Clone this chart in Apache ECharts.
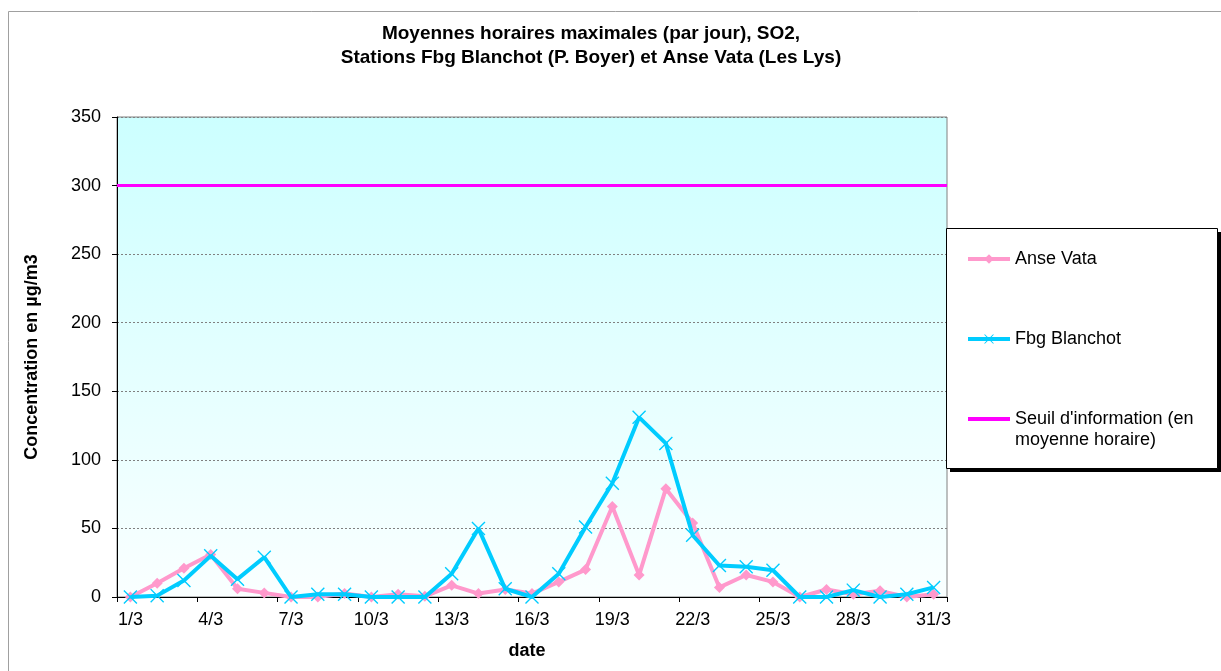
<!DOCTYPE html>
<html>
<head>
<meta charset="utf-8">
<script src="https://cdn.jsdelivr.net/npm/echarts@6/dist/echarts.min.js"></script>
<style>
html,body{margin:0;padding:0;background:#fff;}
#chart{width:1221px;height:671px;}
</style>
</head>
<body>
<div id="chart"></div>
<script>
const categories = ['1/3','2/3','3/3','4/3','5/3','6/3','7/3','8/3','9/3','10/3','11/3','12/3','13/3','14/3','15/3','16/3','17/3','18/3','19/3','20/3','21/3','22/3','23/3','24/3','25/3','26/3','27/3','28/3','29/3','30/3','31/3'];
const anseVata = [0,10,21,31,6,3,0,0,2.5,0,2,0.5,8.5,2.5,5.5,2.5,11,20,66,16,79,54,7,16,11,0,5.5,2,4.5,0,2];
const fbgBlanchot = [0,1,12,30,13,29,0,2,2,0,0,0,17,50,6,0,17,51,83,131,112,45,23,22,19.5,0,0,5,0,2,7];
const seuil = 300;
const yTicks = {min: 0, max: 350, interval: 50};

const FONT = '"Liberation Sans", Arial, sans-serif';
const xPath = 'path://M0,7 L7,0 L50,43 L93,0 L100,7 L57,50 L100,93 L93,100 L50,57 L7,100 L0,93 L43,50 Z';
const legendText = {fontFamily: FONT, fontSize: 18, color: '#000'};

const chart = echarts.init(document.getElementById('chart'), null, {renderer: 'canvas'});
chart.setOption({
  animation: false,
  backgroundColor: '#ffffff',
  title: {
    text: 'Moyennes horaires maximales (par jour), SO2,\nStations Fbg Blanchot (P. Boyer) et Anse Vata (Les Lys)',
    left: 586, top: 17, textAlign: 'center',
    textStyle: {fontFamily: FONT, fontSize: 19, fontWeight: 'bold', color: '#000', lineHeight: 24}
  },
  grid: {
    left: 117, top: 117, right: 274, bottom: 74,
    show: true, borderColor: '#808080', borderWidth: 1,
    backgroundColor: new echarts.graphic.LinearGradient(0, 0, 0, 1, [
      {offset: 0, color: '#CCFFFF'}, {offset: 1, color: '#FAFFFF'}
    ])
  },
  graphic: [
    {type: 'rect', left: 6, top: 9, shape: {width: 1300, height: 800}, style: {fill: 'none', stroke: '#A0A0A0', lineWidth: 1}, z: -10, silent: true},
    {type: 'rect', x: 950, y: 232, shape: {width: 271, height: 240}, style: {fill: '#000'}, z: 4, silent: true},
    {type: 'rect', x: 946.5, y: 228.5, shape: {width: 271, height: 240}, style: {fill: '#fff', stroke: '#000', lineWidth: 1}, z: 5, silent: true},
    {type: 'text', x: 1015, y: 440, style: {text: 'moyenne horaire)', font: '18px ' + FONT, fill: '#000', verticalAlign: 'middle'}, z: 20}
  ],
  legend: [
    {data: ['Anse Vata'], left: 961, top: 245, orient: 'vertical', itemWidth: 42, itemHeight: 12, z: 10,
      lineStyle: {width: 4}, textStyle: legendText},
    {data: ['Fbg Blanchot'], left: 961, top: 325, orient: 'vertical', itemWidth: 42, itemHeight: 12, z: 10,
      lineStyle: {width: 4}, textStyle: legendText},
    {data: ["Seuil d'information (en moyenne horaire)"], left: 963, top: 405, orient: 'vertical', itemWidth: 42, itemHeight: 4, z: 10,
      icon: 'rect', formatter: function(){ return "Seuil d'information (en"; }, textStyle: legendText}
  ],
  xAxis: {
    type: 'category', data: categories, boundaryGap: true,
    name: 'date', nameLocation: 'middle', nameGap: 45,
    nameTextStyle: {fontFamily: FONT, fontSize: 18, fontWeight: 'bold', color: '#000', padding: [0, 10, 0, 0]},
    axisLine: {lineStyle: {color: '#000', width: 1}},
    axisTick: {show: true, interval: 2, length: 5, lineStyle: {color: '#000'}},
    axisLabel: {interval: 2, fontFamily: FONT, fontSize: 18, color: '#000', margin: 14},
    splitLine: {show: false}
  },
  yAxis: {
    type: 'value', min: yTicks.min, max: yTicks.max, interval: yTicks.interval,
    name: 'Concentration en µg/m3', nameLocation: 'middle', nameGap: 76,
    nameTextStyle: {fontFamily: FONT, fontSize: 18, fontWeight: 'bold', color: '#000'},
    axisLine: {show: true, lineStyle: {color: '#000', width: 1}},
    axisTick: {show: true, length: 5, lineStyle: {color: '#000'}},
    axisLabel: {fontFamily: FONT, fontSize: 18, color: '#000', margin: 16},
    splitLine: {show: true, lineStyle: {color: '#808080', width: 1, type: [2, 2]}}
  },
  series: [
    {name: 'Anse Vata', type: 'line', data: anseVata, color: '#FF99CC',
      lineStyle: {width: 4, color: '#FF99CC'}, symbol: 'diamond', symbolSize: 11,
      itemStyle: {color: '#FF99CC'}, z: 3},
    {name: 'Fbg Blanchot', type: 'line', data: fbgBlanchot, color: '#00CCFF',
      lineStyle: {width: 4, color: '#00CCFF'}, symbol: xPath, symbolSize: 14,
      itemStyle: {color: '#00CCFF'}, z: 4},
    {name: "Seuil d'information (en moyenne horaire)", type: 'line', data: [], color: '#FF00FF',
      symbol: 'none', lineStyle: {width: 4, color: '#FF00FF'}, itemStyle: {color: '#FF00FF'},
      markLine: {silent: true, symbol: ['none', 'none'], label: {show: false},
        lineStyle: {color: '#FF00FF', width: 3, type: 'solid'},
        data: [{yAxis: seuil}]}, z: 2}
  ]
});
</script>
</body>
</html>
